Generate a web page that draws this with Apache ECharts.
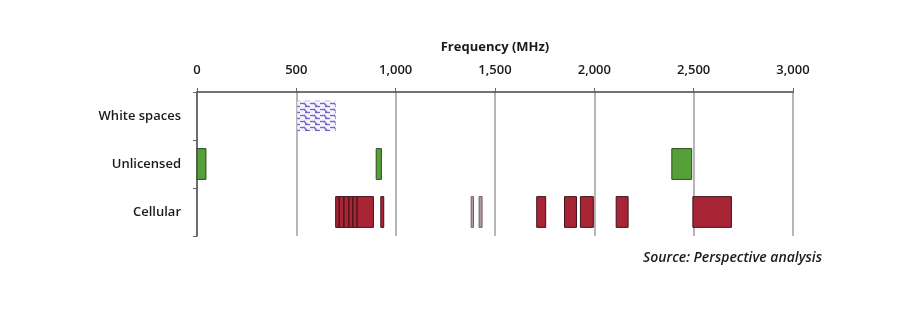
<!DOCTYPE html>
<html>
<head>
<meta charset="utf-8">
<script src="https://cdn.jsdelivr.net/npm/echarts@6/dist/echarts.min.js"></script>
<style>
html,body{margin:0;padding:0;background:#fff;}
#chart{width:900px;height:327px;}
</style>
</head>
<body>
<div id="chart"></div>
<script>
// ---- data ----
const categories = ['White spaces', 'Unlicensed', 'Cellular'];
const whiteSpaceBands = [[505, 698]];
const unlicensedBands = [[0, 45], [902, 928], [2390, 2490]];
const cellularBands = [[698, 716], [716, 740], [740, 765], [765, 785], [785, 806], [806, 888], [925, 940],
                       [1710, 1755], [1850, 1910], [1930, 1995], [2110, 2170], [2496, 2690]];
const cellularLightBands = [[1380, 1392], [1420, 1435]];
const xMin = 0, xMax = 3000, xStep = 500;
const axisTitle = 'Frequency (MHz)';
const sourceNote = 'Source: Perspective analysis';

function toData(catName, bands) {
  return bands.map(b => [catName, b[0], b[1]]);
}

// hatch pattern for white spaces
const pc = document.createElement('canvas');
pc.width = 10; pc.height = 6;
const g = pc.getContext('2d');
g.fillStyle = '#f4f2fb'; g.fillRect(0, 0, 10, 6);
g.strokeStyle = '#7466c4'; g.lineWidth = 1.3;
g.beginPath(); g.moveTo(0, 1.5); g.lineTo(5, 1.5); g.stroke();
g.beginPath(); g.moveTo(5, 4.5); g.lineTo(10, 4.5); g.stroke();
g.beginPath(); g.moveTo(4, 1); g.lineTo(7, 4.5); g.stroke();

function renderItem(params, api) {
  const cat = api.value(0);
  const p0 = api.coord([api.value(1), cat]);
  const p1 = api.coord([api.value(2), cat]);
  const h = api.size([0, 1])[1] * 0.64;
  return {
    type: 'rect',
    shape: { x: p0[0], y: p0[1] - h / 2, width: Math.max(p1[0] - p0[0], 1), height: h },
    style: api.style()
  };
}

const chart = echarts.init(document.getElementById('chart'));
const txt = '#1a1a1a';
chart.setOption({
  animation: false,
  backgroundColor: '#fff',
  textStyle: { fontFamily: 'Open Sans, Liberation Sans, sans-serif' },
  grid: { left: 197, right: 107, top: 92, bottom: 91, containLabel: false },
  xAxis: {
    type: 'value', position: 'top', min: xMin, max: xMax, interval: xStep,
    name: axisTitle, nameLocation: 'middle', nameGap: 38,
    nameTextStyle: { fontWeight: 'bold', fontSize: 13, color: txt },
    axisLine: { show: true, lineStyle: { color: '#444', width: 1.5 } },
    axisTick: { show: true, length: 4, lineStyle: { color: '#666' } },
    axisLabel: { fontSize: 13, fontWeight: 600, color: txt, margin: 15, formatter: v => v.toLocaleString('en-US') },
    splitLine: { show: true, lineStyle: { color: '#9e9e9e', width: 1.5 } }
  },
  yAxis: {
    type: 'category', data: categories, inverse: true,
    axisLine: { show: true, lineStyle: { color: '#555', width: 1.5 } },
    axisTick: { show: true, length: 4, lineStyle: { color: '#666' } },
    axisLabel: { fontSize: 13, fontWeight: 600, color: txt, margin: 16 },
    splitLine: { show: false }
  },
  series: [
    {
      type: 'custom', name: 'White spaces', renderItem,
      encode: { x: [1, 2], y: 0 },
      itemStyle: { color: { image: pc, repeat: 'repeat' } },
      data: toData(categories[0], whiteSpaceBands)
    },
    {
      type: 'custom', name: 'Unlicensed', renderItem,
      encode: { x: [1, 2], y: 0 },
      itemStyle: { color: '#56a03a', borderColor: '#2a4a1c', borderWidth: 1 },
      data: toData(categories[1], unlicensedBands)
    },
    {
      type: 'custom', name: 'Cellular', renderItem,
      encode: { x: [1, 2], y: 0 },
      itemStyle: { color: '#a82536', borderColor: '#3e1018', borderWidth: 1 },
      data: toData(categories[2], cellularBands)
    },
    {
      type: 'custom', name: 'Cellular (other)', renderItem,
      encode: { x: [1, 2], y: 0 },
      itemStyle: { color: '#b29aa2', borderColor: '#6e5c64', borderWidth: 1 },
      data: toData(categories[2], cellularLightBands)
    }
  ],
  graphic: [{
    type: 'text', right: 78, top: 251,
    style: { text: sourceNote, font: 'italic 600 14px "Open Sans", sans-serif', fill: txt }
  }]
});
</script>
</body>
</html>
